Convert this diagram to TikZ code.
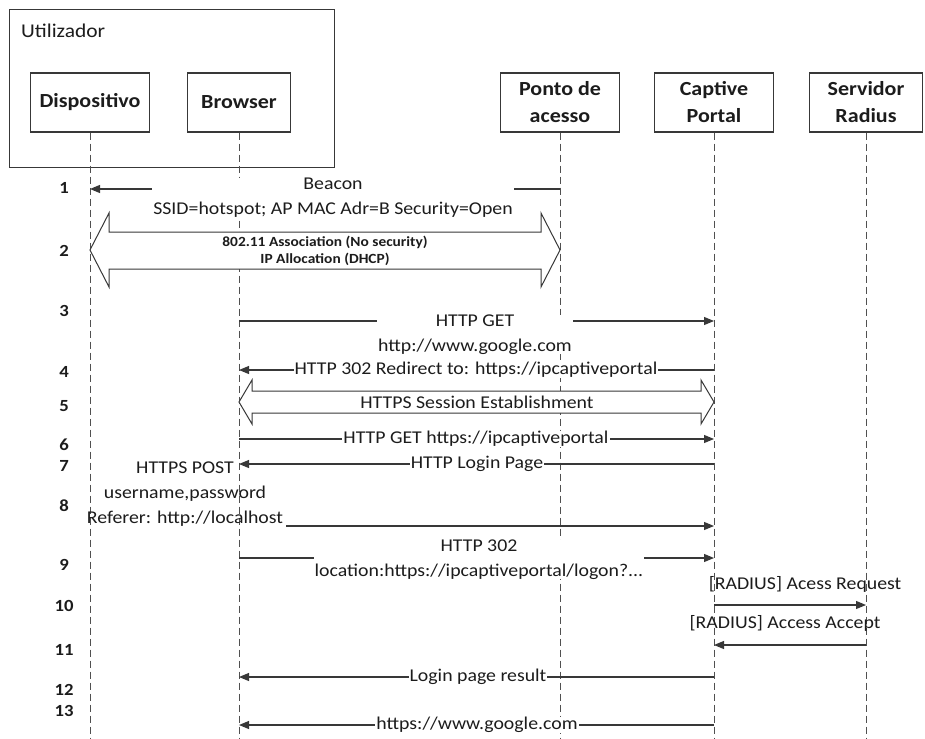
\documentclass[tikz,border=0pt]{standalone}
\usepackage{fontspec}
\usetikzlibrary{arrows.meta}
\newfontfamily\calfam[FakeStretch=1.1]{Carlito}
\definecolor{linec}{HTML}{383838}
\definecolor{lifec}{HTML}{505050}
\definecolor{textc}{HTML}{1C1C1C}
\newcommand\msgfont{\calfam\fontsize{18}{25}\selectfont}
\newcommand\actorfont{\calfam\bfseries\fontsize{20}{27}\selectfont}
\newcommand\userfont{\calfam\fontsize{19.5}{24}\selectfont}
\newcommand\numfont{\calfam\bfseries\fontsize{17}{20}\selectfont}
\newcommand\smallbold{\calfam\bfseries\fontsize{14}{17}\selectfont}
\tikzset{
  actor/.style={draw=linec, line width=1.1pt, fill=white, font=\actorfont,
    text=textc, align=center, minimum height=59pt, inner sep=0pt},
  life/.style={draw=lifec, line width=1pt, dash pattern=on 7pt off 4pt},
  msg/.style={draw=linec, line width=1.1pt, -{Triangle[length=10pt,width=8pt]}},
  msglabel/.style={fill=white, font=\msgfont, text=textc, inner xsep=1pt,
    inner ysep=0pt, align=center},
  freelabel/.style={font=\msgfont, text=textc, inner sep=0pt, align=center},
  stepnum/.style={font=\numfont, text=textc, inner sep=0pt},
  blockarrow/.style={draw=linec, line width=1pt, fill=white, line join=miter},
}
\begin{document}
\begin{tikzpicture}[x=1pt,y=-1pt]
\useasboundingbox[fill=white] (0,0) rectangle (925,738);

% participants
\node[draw=linec, line width=1.1pt, minimum width=325pt, minimum height=158pt,
  anchor=north west, inner sep=0pt] (user) at (9,9) {};
\node[font=\userfont, text=textc, anchor=west, inner sep=0pt] (userlbl) at (21,31) {Utilizador};
\node[actor, minimum width=119pt] (dev) at (90,102.5) {Dispositivo};
\node[actor, minimum width=103pt] (brw) at (239,102.5) {Browser};
\node[actor, minimum width=119pt] (ap) at (560,102.5) {Ponto de\\acesso};
\node[actor, minimum width=119pt] (cp) at (714,102.5) {Captive\\Portal};
\node[actor, minimum width=113pt] (rad) at (866,102.5) {Servidor\\Radius};

% lifelines
\coordinate (devEnd) at (90,738);
\coordinate (brwEnd) at (239,738);
\coordinate (apEnd) at (560,738);
\coordinate (cpEnd) at (714,738);
\coordinate (radEnd) at (866,738);
\draw[life] (dev.south) -- (devEnd);
\draw[life] (brw.south) -- (brwEnd);
\draw[life] (ap.south) -- (apEnd);
\draw[life] (cp.south) -- (cpEnd);
\draw[life] (rad.south) -- (radEnd);

% step numbers
\foreach \n/\y in {1/188,2/251,3/311,4/372,5/406,6/445,7/466,8/506,9/565,10/606,11/650,12/690,13/711}
  \node[stepnum] (num\n) at (64,\y) {\n};

% 1: beacon
\draw[msg] (ap |- 0,189) -- (dev |- 0,189);
\node[msglabel] (l1) at (333,198) {Beacon\\SSID=hotspot; AP MAC Adr=B Security=Open};

% 2: association / DHCP
\draw[blockarrow] (dev |- 0,250) -- (109,213) -- (109,232) -- (541,232) -- (541,213)
  -- (ap |- 0,250) -- (541,287) -- (541,269) -- (109,269) -- (109,287) -- cycle;
\node[font=\smallbold, text=textc, align=center, inner sep=0pt] (l2)
  at (325,250.5) {802.11 Association (No security)\\IP Allocation (DHCP)};

% 3: HTTP GET
\draw[msg] (brw |- 0,321) -- (cp |- 0,321);
\node[msglabel] (l3) at (475,334.5) {HTTP GET\\http://www.google.com};

% 4: redirect
\draw[msg] (cp |- 0,370) -- (brw |- 0,370);
\node[msglabel] (l4) at (476,370) {HTTP 302 Redirect to: https://ipcaptiveportal};

% 5: HTTPS session
\draw[blockarrow] (brw |- 0,402) -- (252,380) -- (252,391) -- (701,391) -- (701,380)
  -- (cp |- 0,402) -- (701,424) -- (701,413) -- (252,413) -- (252,424) -- cycle;
\node[freelabel] (l5) at (477,402) {HTTPS Session Establishment};

% 6: GET portal
\draw[msg] (brw |- 0,439) -- (cp |- 0,439);
\node[msglabel] (l6) at (476,439) {HTTP GET https://ipcaptiveportal};

% 7: login page
\draw[msg] (cp |- 0,464) -- (brw |- 0,464);
\node[msglabel] (l7) at (477,464) {HTTP Login Page};

% 8: POST credentials
\node[freelabel] (l8) at (185,494) {HTTPS POST\\username,password\\Referer: http://localhost};
\coordinate (m8) at (286,526);
\draw[msg] (m8) -- (cp |- m8);

% 9: redirect to logon
\draw[msg] (brw |- 0,558) -- (cp |- 0,558);
\node[msglabel] (l9) at (479,559.5) {HTTP 302\\location:https://ipcaptiveportal/logon?...};

% 10: RADIUS request
\node[freelabel] (l10) at (805,584) {[RADIUS] Acess Request};
\draw[msg] (cp |- 0,605) -- (rad |- 0,605);

% 11: RADIUS accept
\node[freelabel] (l11) at (785,623) {[RADIUS] Access Accept};
\draw[msg] (rad |- 0,645) -- (cp |- 0,645);

% 12: login result
\draw[msg] (cp |- 0,677) -- (brw |- 0,677);
\node[msglabel] (l12) at (478,677) {Login page result};

% 13: original page
\draw[msg] (cp |- 0,725) -- (brw |- 0,725);
\node[msglabel] (l13) at (477,725) {https://www.google.com};
\end{tikzpicture}
\end{document}
